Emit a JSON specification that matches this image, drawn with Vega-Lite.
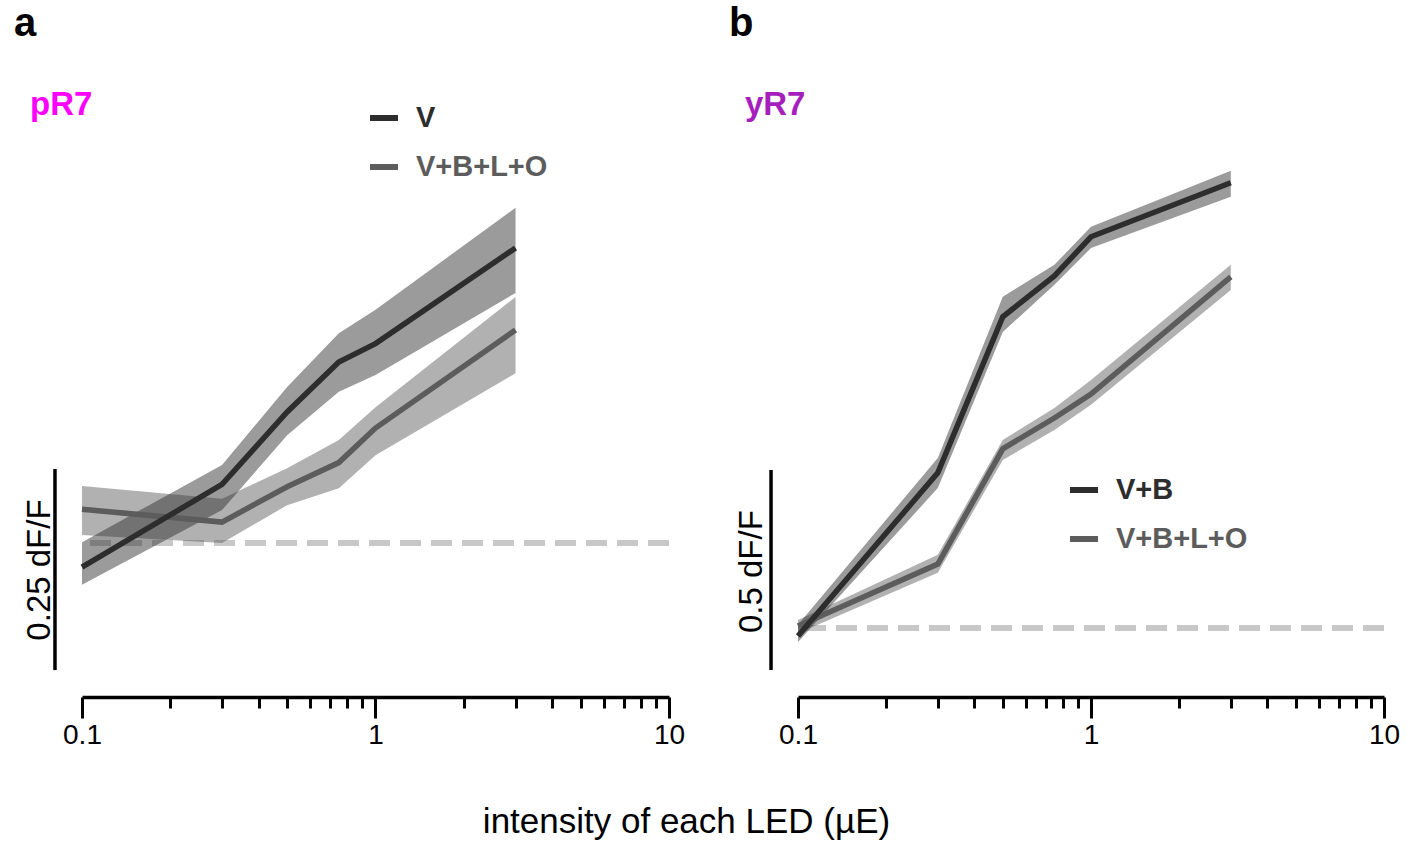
{
  "$schema": "https://vega.github.io/schema/vega-lite/v6.json",
  "background": "white",
  "padding": {"left": 14, "top": 4, "right": 10, "bottom": 5},
  "config": {"view": {"stroke": null}, "font": "Liberation Sans"},
  "datasets": {
    "pR7": [
      {"x": 0.1, "series": "V+B+L+O", "m": 0.042, "lo": 0.010, "hi": 0.071},
      {"x": 0.3, "series": "V+B+L+O", "m": 0.026, "lo": 0.000, "hi": 0.055},
      {"x": 0.5, "series": "V+B+L+O", "m": 0.070, "lo": 0.047, "hi": 0.093},
      {"x": 0.75, "series": "V+B+L+O", "m": 0.100, "lo": 0.068, "hi": 0.128},
      {"x": 1, "series": "V+B+L+O", "m": 0.143, "lo": 0.109, "hi": 0.169},
      {"x": 3, "series": "V+B+L+O", "m": 0.265, "lo": 0.211, "hi": 0.306},
      {"x": 0.1, "series": "V", "m": -0.030, "lo": -0.052, "hi": 0.001},
      {"x": 0.3, "series": "V", "m": 0.073, "lo": 0.041, "hi": 0.097},
      {"x": 0.5, "series": "V", "m": 0.163, "lo": 0.134, "hi": 0.194},
      {"x": 0.75, "series": "V", "m": 0.225, "lo": 0.188, "hi": 0.261},
      {"x": 1, "series": "V", "m": 0.248, "lo": 0.209, "hi": 0.290},
      {"x": 3, "series": "V", "m": 0.367, "lo": 0.311, "hi": 0.417}
    ],
    "yR7": [
      {"x": 0.1, "series": "V+B+L+O", "m": 0.005, "lo": -0.013, "hi": 0.020},
      {"x": 0.3, "series": "V+B+L+O", "m": 0.160, "lo": 0.138, "hi": 0.183},
      {"x": 0.5, "series": "V+B+L+O", "m": 0.448, "lo": 0.420, "hi": 0.470},
      {"x": 0.75, "series": "V+B+L+O", "m": 0.525, "lo": 0.495, "hi": 0.550},
      {"x": 1, "series": "V+B+L+O", "m": 0.585, "lo": 0.558, "hi": 0.620},
      {"x": 3, "series": "V+B+L+O", "m": 0.878, "lo": 0.845, "hi": 0.908},
      {"x": 0.1, "series": "V+B", "m": -0.020, "lo": -0.035, "hi": 0.008},
      {"x": 0.3, "series": "V+B", "m": 0.388, "lo": 0.350, "hi": 0.425},
      {"x": 0.5, "series": "V+B", "m": 0.778, "lo": 0.740, "hi": 0.828},
      {"x": 0.75, "series": "V+B", "m": 0.880, "lo": 0.858, "hi": 0.908},
      {"x": 1, "series": "V+B", "m": 0.978, "lo": 0.950, "hi": 1.003},
      {"x": 3, "series": "V+B", "m": 1.113, "lo": 1.078, "hi": 1.143}
    ]
  },
  "spacing": 129,
  "bounds": "flush",
  "resolve": {
    "scale": {"x": "independent", "y": "independent", "color": "independent"},
    "legend": {"color": "independent"},
    "axis": {"x": "independent", "y": "independent"}
  },
  "hconcat": [
    {
      "width": 587,
      "height": 637,
      "title": {"text": "a", "anchor": "start", "frame": "group", "dx": -68, "fontSize": 40, "fontWeight": "bold", "offset": 16, "color": "black"},
      "data": {"name": "pR7"},
      "layer": [
        {
          "mark": {"type": "rule", "color": "#c8c8c8", "strokeWidth": 6, "strokeDash": [21, 10]},
          "encoding": {"y": {"datum": 0, "type": "quantitative", "scale": {"domain": [-0.1915, 0.6007], "nice": false, "zero": false}, "axis": null}}
        },
        {
          "mark": {"type": "area", "fillOpacity": 0.48},
          "encoding": {
            "x": {"field": "x", "type": "quantitative", "scale": {"type": "log", "domain": [0.1, 10], "nice": false},
              "axis": {"title": "intensity of each LED (µE)", "titleX": 604, "titleY": 135, "titleAlign": "center", "titleBaseline": "alphabetic", "titleFontSize": 35, "titleFontWeight": "normal", "titleColor": "black", "titleFont": "Liberation Sans",
                "orient": "bottom", "values": [0.1, 0.2, 0.3, 0.4, 0.5, 0.6, 0.7, 0.8, 0.9, 1, 2, 3, 4, 5, 6, 7, 8, 9, 10], "format": "~g",
                "labelExpr": "(datum.value == 0.1 || datum.value == 1 || datum.value == 10) ? datum.label : ''",
                "tickSize": {"condition": {"test": "datum.value == 0.1 || datum.value == 1 || datum.value == 10", "value": 21}, "value": 11},
                "tickWidth": 3, "tickColor": "black", "domainColor": "black", "domainWidth": 3.5, "labelFontSize": 28, "labelColor": "black", "labelFont": "Liberation Sans",
                "labelPadding": 3, "labelOverlap": false, "labelFlush": false, "labelBound": false, "grid": false}},
            "y": {"field": "lo", "type": "quantitative", "scale": {"domain": [-0.1915, 0.6007], "nice": false, "zero": false}, "axis": null},
            "y2": {"field": "hi"},
            "color": {"field": "series", "type": "nominal", "scale": {"domain": ["V", "V+B+L+O"], "range": ["#2d2d2d", "#5c5c5c"]},
              "legend": {"title": null, "orient": "none", "legendX": 285, "legendY": 41, "symbolType": "stroke", "symbolSize": 784, "symbolStrokeWidth": 6, "symbolOpacity": 1,
                "labelFontSize": 29, "labelFontWeight": "bold", "labelFont": "Liberation Sans", "labelOffset": 15, "rowPadding": 17, "padding": 0, "labelLimit": 400,
                "labelColor": {"expr": "datum.value == 'V+B+L+O' ? '#5c5c5c' : '#2d2d2d'"}}}
          }
        },
        {
          "mark": {"type": "line", "strokeWidth": 5.5},
          "encoding": {
            "x": {"field": "x", "type": "quantitative", "scale": {"type": "log", "domain": [0.1, 10], "nice": false}},
            "y": {"field": "m", "type": "quantitative"},
            "color": {"field": "series", "type": "nominal"}
          }
        },
        {
          "data": {"values": [{}]},
          "mark": {"type": "rule", "color": "black", "strokeWidth": 3.5},
          "encoding": {"x": {"datum": 0.0809}, "y": {"datum": 0.092}, "y2": {"datum": -0.158}}
        },
        {
          "data": {"values": [{}]},
          "mark": {"type": "text", "text": "0.25 dF/F", "angle": 270, "align": "center", "baseline": "middle", "fontSize": 33, "color": "black"},
          "encoding": {"x": {"datum": 0.0719}, "y": {"datum": -0.0336}}
        },
        {
          "data": {"values": [{}]},
          "mark": {"type": "text", "text": "pR7", "align": "left", "baseline": "alphabetic", "fontSize": 33, "fontWeight": "bold", "color": "#ff00ff"},
          "encoding": {"x": {"datum": 0.0665}, "y": {"datum": 0.532}}
        }
      ]
    },
    {
      "width": 586,
      "height": 637,
      "title": {"text": "b", "anchor": "start", "frame": "group", "dx": -69, "fontSize": 40, "fontWeight": "bold", "offset": 16, "color": "black"},
      "data": {"name": "yR7"},
      "layer": [
        {
          "mark": {"type": "rule", "color": "#c8c8c8", "strokeWidth": 6, "strokeDash": [21, 10]},
          "encoding": {"y": {"datum": 0, "type": "quantitative", "scale": {"domain": [-0.1725, 1.42], "nice": false, "zero": false}, "axis": null}}
        },
        {
          "mark": {"type": "area", "fillOpacity": 0.48},
          "encoding": {
            "x": {"field": "x", "type": "quantitative", "scale": {"type": "log", "domain": [0.1, 10], "nice": false},
              "axis": {"title": null, "orient": "bottom", "values": [0.1, 0.2, 0.3, 0.4, 0.5, 0.6, 0.7, 0.8, 0.9, 1, 2, 3, 4, 5, 6, 7, 8, 9, 10], "format": "~g",
                "labelExpr": "(datum.value == 0.1 || datum.value == 1 || datum.value == 10) ? datum.label : ''",
                "tickSize": {"condition": {"test": "datum.value == 0.1 || datum.value == 1 || datum.value == 10", "value": 21}, "value": 11},
                "tickWidth": 3, "tickColor": "black", "domainColor": "black", "domainWidth": 3.5, "labelFontSize": 28, "labelColor": "black", "labelFont": "Liberation Sans",
                "labelPadding": 3, "labelOverlap": false, "labelFlush": false, "labelBound": false, "grid": false}},
            "y": {"field": "lo", "type": "quantitative", "scale": {"domain": [-0.1725, 1.42], "nice": false, "zero": false}, "axis": null},
            "y2": {"field": "hi"},
            "color": {"field": "series", "type": "nominal", "scale": {"domain": ["V+B", "V+B+L+O"], "range": ["#2d2d2d", "#5c5c5c"]},
              "legend": {"title": null, "orient": "none", "legendX": 269, "legendY": 413, "symbolType": "stroke", "symbolSize": 784, "symbolStrokeWidth": 6, "symbolOpacity": 1,
                "labelFontSize": 29, "labelFontWeight": "bold", "labelFont": "Liberation Sans", "labelOffset": 15, "rowPadding": 17, "padding": 0, "labelLimit": 400,
                "labelColor": {"expr": "datum.value == 'V+B+L+O' ? '#5c5c5c' : '#2d2d2d'"}}}
          }
        },
        {
          "mark": {"type": "line", "strokeWidth": 5.5},
          "encoding": {
            "x": {"field": "x", "type": "quantitative", "scale": {"type": "log", "domain": [0.1, 10], "nice": false}},
            "y": {"field": "m", "type": "quantitative"},
            "color": {"field": "series", "type": "nominal"}
          }
        },
        {
          "data": {"values": [{}]},
          "mark": {"type": "rule", "color": "black", "strokeWidth": 3.5},
          "encoding": {"x": {"datum": 0.0809}, "y": {"datum": 0.395}, "y2": {"datum": -0.105}}
        },
        {
          "data": {"values": [{}]},
          "mark": {"type": "text", "text": "0.5 dF/F", "angle": 270, "align": "center", "baseline": "middle", "fontSize": 33, "color": "black"},
          "encoding": {"x": {"datum": 0.0697}, "y": {"datum": 0.141}}
        },
        {
          "data": {"values": [{}]},
          "mark": {"type": "text", "text": "yR7", "align": "left", "baseline": "alphabetic", "fontSize": 33, "fontWeight": "bold", "color": "#a61fbd"},
          "encoding": {"x": {"datum": 0.0659}, "y": {"datum": 1.2825}}
        }
      ]
    }
  ]
}
